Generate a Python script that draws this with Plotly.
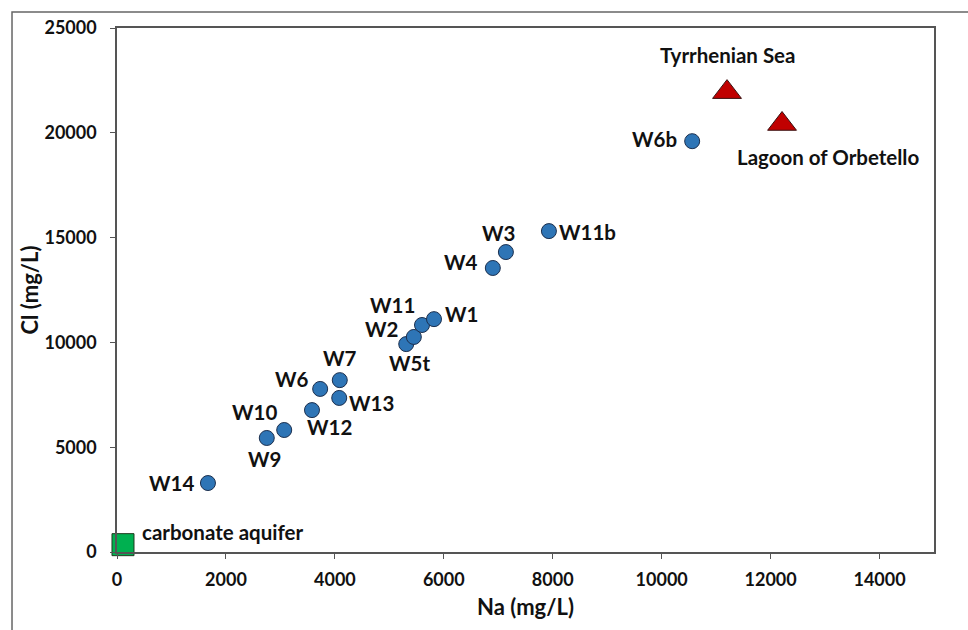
import plotly.graph_objects as go

# ---- data ----
well_names = ["W14", "W9", "W10", "W12", "W6", "W7", "W13", "W5t", "W2", "W11",
              "W1", "W4", "W3", "W11b", "W6b"]
well_na = [1670, 2750, 3070, 3580, 3730, 4090, 4080, 5310, 5450, 5600,
           5820, 6900, 7140, 7930, 10560]
well_cl = [3290, 5440, 5820, 6770, 7780, 8200, 7350, 9920, 10260, 10830,
           11110, 13550, 14310, 15310, 19600]

sea_names = ["Tyrrhenian Sea", "Lagoon of Orbetello"]
sea_na = [11200, 12210]
sea_cl = [21940, 20420]

aq_names = ["carbonate aquifer"]
aq_na = [110]
aq_cl = [350]

x_ticks = [0, 2000, 4000, 6000, 8000, 10000, 12000, 14000]
y_ticks = [0, 5000, 10000, 15000, 20000, 25000]

# ---- label placement (pixel offsets from each point) ----
label_offsets = {
    "W14": (-36, 0), "W9": (-2, -21), "W10": (-30, 18), "W12": (18, -17),
    "W6": (-28, 10), "W7": (0, 22), "W13": (32, -5), "W5t": (3, -19),
    "W2": (-32, 8), "W11": (-30, 20), "W1": (27, 5), "W4": (-32, 6),
    "W3": (-7, 19), "W11b": (39, -1), "W6b": (-38, 2),
    "Tyrrhenian Sea": (0, 37), "Lagoon of Orbetello": (46, -33),
}

FONT = "Lato"
TXT = "#111111"
LBL = 20.5

fig = go.Figure()
fig.add_trace(go.Scatter(
    x=well_na, y=well_cl, mode="markers", name="wells",
    marker=dict(symbol="circle", size=15, color="#2E75B6",
                line=dict(color="#1B2F4E", width=1)),
    cliponaxis=False))
fig.add_trace(go.Scatter(
    x=sea_na, y=sea_cl, mode="markers", name="sea",
    marker=dict(symbol="triangle-up", size=25, color="#C00000",
                line=dict(color="#3A1010", width=1)),
    cliponaxis=False))
fig.add_trace(go.Scatter(
    x=aq_na, y=aq_cl, mode="markers", name="aquifer",
    marker=dict(symbol="square", size=22, color="#00B050",
                line=dict(color="#1E3A1E", width=1)),
    cliponaxis=False))

annotations = []
for names, xs, ys in [(well_names, well_na, well_cl), (sea_names, sea_na, sea_cl)]:
    for n, xv, yv in zip(names, xs, ys):
        dx, dy = label_offsets[n]
        annotations.append(dict(
            x=xv, y=yv, xref="x", yref="y", text="<b>%s</b>" % n,
            showarrow=False, xshift=dx, yshift=dy,
            font=dict(family=FONT, size=LBL, color=TXT)))
for n, xv, yv in zip(aq_names, aq_na, aq_cl):
    annotations.append(dict(
        x=xv, y=yv, xref="x", yref="y", text="<b>%s</b>" % n,
        showarrow=False, xanchor="left", xshift=17, yshift=13,
        font=dict(family=FONT, size=LBL, color=TXT)))

fig.update_layout(
    width=968, height=630,
    margin=dict(l=117, r=34, t=28, b=78),
    paper_bgcolor="white", plot_bgcolor="white",
    showlegend=False,
    annotations=annotations,
    shapes=[dict(type="rect", xref="paper", yref="paper",
                 x0=-0.1285, x1=1.06, y0=-0.2, y1=1.0305,
                 line=dict(color="#666666", width=1.5), layer="below")],
    xaxis=dict(range=[0, 15000], tickvals=x_ticks,
               ticktext=["<b>%d</b>" % v for v in x_ticks],
               showgrid=False, zeroline=False,
               showline=True, linecolor="#555555", linewidth=1.5, mirror=True,
               ticks="outside", ticklen=5, tickcolor="#555555",
               ticklabelstandoff=6,
               tickfont=dict(family=FONT, size=18, color=TXT),
               title=dict(text="<b>Na (mg/L)</b>", standoff=10,
                          font=dict(family=FONT, size=22, color=TXT))),
    yaxis=dict(range=[0, 25000], tickvals=y_ticks,
               ticktext=["<b>%d</b>" % v for v in y_ticks],
               showgrid=False, zeroline=False,
               showline=True, linecolor="#555555", linewidth=1.5, mirror=True,
               ticks="outside", ticklen=5, tickcolor="#555555",
               ticklabelstandoff=10,
               tickfont=dict(family=FONT, size=18, color=TXT),
               title=dict(text="<b>Cl (mg/L)</b>", standoff=0,
                          font=dict(family=FONT, size=22, color=TXT))),
)

fig.write_html("out.html")
